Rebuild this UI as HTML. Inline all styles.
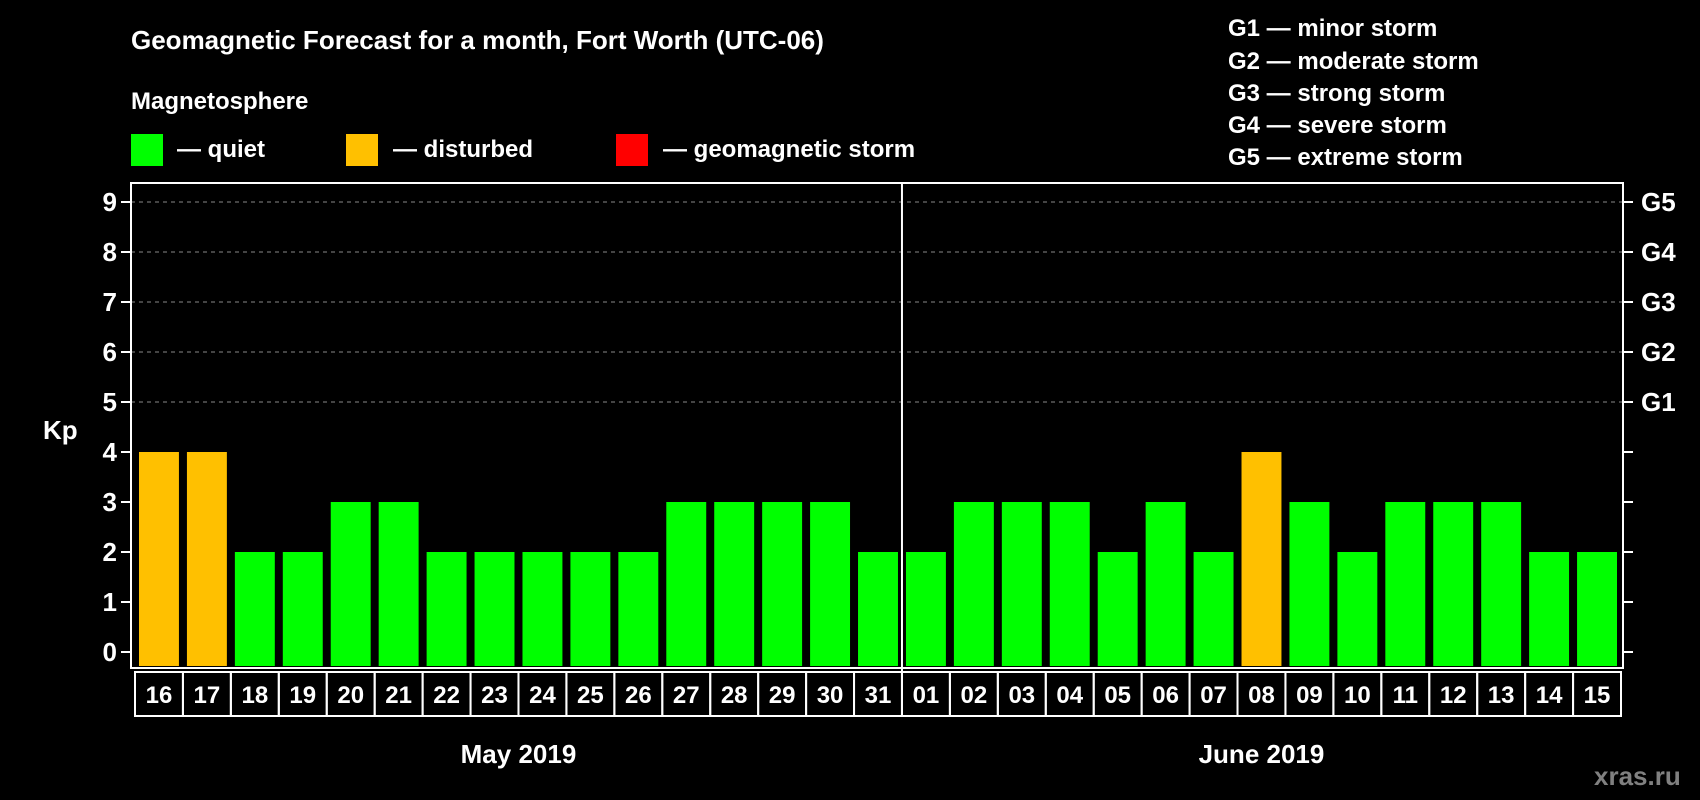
<!DOCTYPE html>
<html><head><meta charset="utf-8"><style>
html,body{margin:0;padding:0;background:#000;}
svg{display:block;font-family:"Liberation Sans",Arial,sans-serif;font-weight:bold;}
</style></head><body>
<svg id="chart" width="1700" height="800" viewBox="0 0 1700 800">
<rect x="0" y="0" width="1700" height="800" fill="#000"/>
<text x="131" y="49" fill="#fff" font-size="26">Geomagnetic Forecast for a month, Fort Worth (UTC-06)</text>
<text x="131" y="109" fill="#fff" font-size="24">Magnetosphere</text>
<g>
<rect x="131" y="134" width="32" height="32" fill="#00ff00"/>
<text x="177" y="157" fill="#fff" font-size="24">— quiet</text>
<rect x="346" y="134" width="32" height="32" fill="#ffc000"/>
<text x="393" y="157" fill="#fff" font-size="24">— disturbed</text>
<rect x="616" y="134" width="32" height="32" fill="#ff0000"/>
<text x="663" y="157" fill="#fff" font-size="24">— geomagnetic storm</text>
</g>
<g fill="#fff" font-size="24">
<text x="1228" y="36">G1 — minor storm</text>
<text x="1228" y="69">G2 — moderate storm</text>
<text x="1228" y="101">G3 — strong storm</text>
<text x="1228" y="133">G4 — severe storm</text>
<text x="1228" y="165">G5 — extreme storm</text>
</g>
<text x="43" y="439" fill="#fff" font-size="26">Kp</text>
<text x="1594" y="785" fill="#808080" font-size="26">xras.ru</text>
<g id="plot"></g>
</svg>
<script>
const days = ["16","17","18","19","20","21","22","23","24","25","26","27","28","29","30","31","01","02","03","04","05","06","07","08","09","10","11","12","13","14","15"];
const kpValues = [4,4,2,2,3,3,2,2,2,2,2,3,3,3,3,2,2,3,3,3,2,3,2,4,3,2,3,3,3,2,2];
const yTicks = [0,1,2,3,4,5,6,7,8,9];
const gLabels = ["G1","G2","G3","G4","G5"];
const months = ["May 2019","June 2019"];

const NS="http://www.w3.org/2000/svg";
const g=document.getElementById('plot');
const L=131,R=1623,T=183,B=668;
const n=days.length;
const pitch=(R-L-6)/n;
function y(v){return 652-v*50;}
function xs(i){return L+4+i*pitch;}
function mk(tag,a){const e=document.createElementNS(NS,tag);for(const k in a)e.setAttribute(k,a[k]);g.appendChild(e);return e;}

yTicks.forEach(v=>{
  if(v>=5){const l=mk('line',{x1:L,x2:R,y1:y(v),y2:y(v),stroke:'#888','stroke-dasharray':'4,4','stroke-width':1});
    
    }
  const t1=mk('line',{x1:L-10,x2:L,y1:y(v),y2:y(v),stroke:'#fff','stroke-width':2});
  
  
  const t2=mk('line',{x1:R,x2:R+10,y1:y(v),y2:y(v),stroke:'#fff','stroke-width':2});
  
  
  const tx=mk('text',{x:L-14,y:y(v)+9,fill:'#fff','font-size':26,'text-anchor':'end'});
  tx.textContent=v;
  
  
});
gLabels.forEach((s,i)=>{
  const tx=mk('text',{x:R+18,y:y(i+5)+9,fill:'#fff','font-size':26});
  tx.textContent=s;
  
  
});
kpValues.forEach((v,i)=>{
  const c=v>=5?'#ff0000':(v>=4?'#ffc000':'#00ff00');
  const bw=pitch-8;
  const r=mk('rect',{x:xs(i)+4,y:y(v),width:bw,height:y(0)-y(v)+14,fill:c});
  
  
  const b=mk('rect',{x:xs(i),y:B+4,width:pitch,height:44,fill:'none',stroke:'#fff','stroke-width':2});
  
  
  const t=mk('text',{x:xs(i)+pitch/2,y:B+35,fill:'#fff','font-size':24,'text-anchor':'middle'});
  t.textContent=days[i];
  
  
});
const fr=mk('rect',{x:L,y:T,width:R-L,height:B-T,fill:'none',stroke:'#fff','stroke-width':2});


const split=days.indexOf("01");
const dx=xs(split);
const dv=mk('line',{x1:dx,x2:dx,y1:T,y2:B+48,stroke:'#fff','stroke-width':2});


const m1=mk('text',{x:(xs(0)+dx)/2,y:763,fill:'#fff','font-size':26,'text-anchor':'middle'});
m1.textContent=months[0];


const m2=mk('text',{x:(dx+xs(n))/2,y:763,fill:'#fff','font-size':26,'text-anchor':'middle'});
m2.textContent=months[1];


</script>
</body></html>
